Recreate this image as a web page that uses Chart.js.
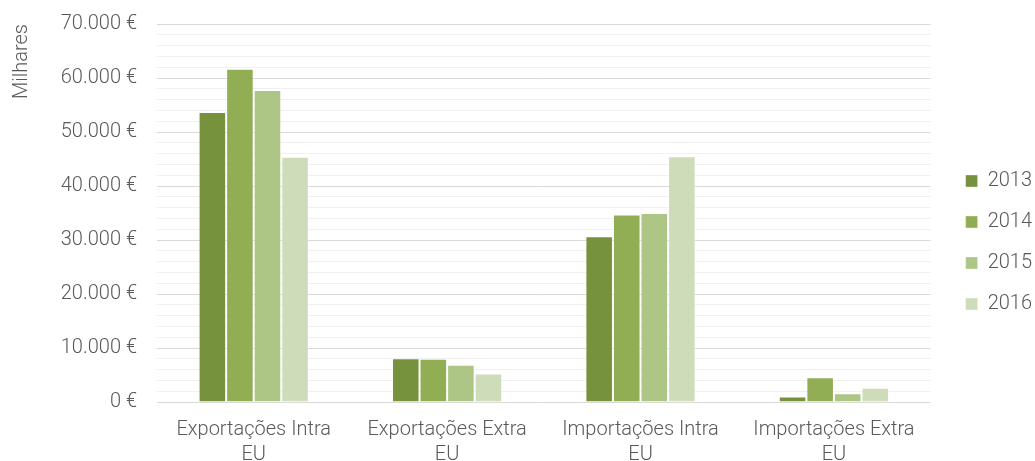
<!DOCTYPE html>
<html>
<head>
<meta charset="utf-8">
<script src="https://cdn.jsdelivr.net/npm/chart.js@4/dist/chart.umd.min.js"></script>
<style>
  html, body { margin: 0; padding: 0; background: #ffffff; }
  #wrap { width: 1035px; height: 461px; position: relative; }
</style>
</head>
<body>
<div id="wrap"><canvas id="c" width="1035" height="461"></canvas></div>
<script>
const categories = [
  ['Exportações Intra', 'EU'],
  ['Exportações Extra', 'EU'],
  ['Importações Intra', 'EU'],
  ['Importações Extra', 'EU']
];
const seriesNames = ['2013', '2014', '2015', '2016'];
const values2013 = [53700, 8100, 30700, 1000];
const values2014 = [61700, 8000, 34700, 4600];
const values2015 = [57800, 6900, 35000, 1600];
const values2016 = [45400, 5300, 45500, 2650];
const seriesColors = ['#77923d', '#91ae55', '#adc686', '#cfdcb9'];
const yTickLabels = { 0: '0 €', 10000: '10.000 €', 20000: '20.000 €', 30000: '30.000 €',
  40000: '40.000 €', 50000: '50.000 €', 60000: '60.000 €', 70000: '70.000 €' };
const yAxisTitle = 'Milhares';

const FONT = 'Roboto, "Liberation Sans", Arial, sans-serif';
const TXT = '#595959';
const allValues = [values2013, values2014, values2015, values2016];

new Chart(document.getElementById('c'), {
  type: 'bar',
  data: {
    labels: categories,
    datasets: seriesNames.map((n, i) => ({
      label: n,
      data: allValues[i],
      backgroundColor: seriesColors[i],
      borderColor: 'rgba(255,255,255,0.35)',
      borderWidth: 1,
      categoryPercentage: 0.57,
      barPercentage: 1.0
    }))
  },
  options: {
    responsive: false,
    animation: false,
    devicePixelRatio: 1,
    layout: { padding: { top: 24, right: -7, bottom: 0, left: 0 } },
    plugins: {
      legend: {
        position: 'right',
        labels: {
          boxWidth: 12, boxHeight: 12, padding: 21,
          color: TXT,
          font: { family: FONT, size: 20, weight: '300' }
        }
      },
      tooltip: { enabled: false }
    },
    scales: {
      x: {
        grid: { display: false, drawTicks: false },
        border: { display: false },
        ticks: {
          color: TXT, padding: 15,
          font: { family: FONT, size: 20, weight: '300', lineHeight: 1.25 },
          maxRotation: 0, autoSkip: false
        },
        afterFit(s) { s.height = 59; }
      },
      y: {
        min: 0, max: 70000,
        grid: {
          drawTicks: false,
          color: (ctx) => (ctx.tick && ctx.tick.value % 10000 === 0) ? '#d9d9d9' : '#f0f0f0',
          lineWidth: 1
        },
        border: { display: false },
        ticks: {
          stepSize: 2000,
          padding: 20,
          color: TXT,
          font: { family: FONT, size: 20, weight: '300' },
          autoSkip: false,
          callback: (v) => (yTickLabels[v] !== undefined ? yTickLabels[v] : '')
        },
        title: {
          display: true, text: yAxisTitle, align: 'end', color: TXT,
          font: { family: FONT, size: 20, weight: '300' },
          padding: { top: 10, bottom: 0 }
        },
        afterFit(s) { s.width = 157; s.paddingTop = 0; s.paddingBottom = 0; }
      },
      yRight: {
        position: 'right',
        display: true,
        grid: { display: false, drawTicks: false },
        border: { display: false },
        ticks: { display: false },
        afterFit(s) { s.width = 14; s.paddingTop = 0; s.paddingBottom = 0; }
      }
    }
  }
});
</script>
</body>
</html>
